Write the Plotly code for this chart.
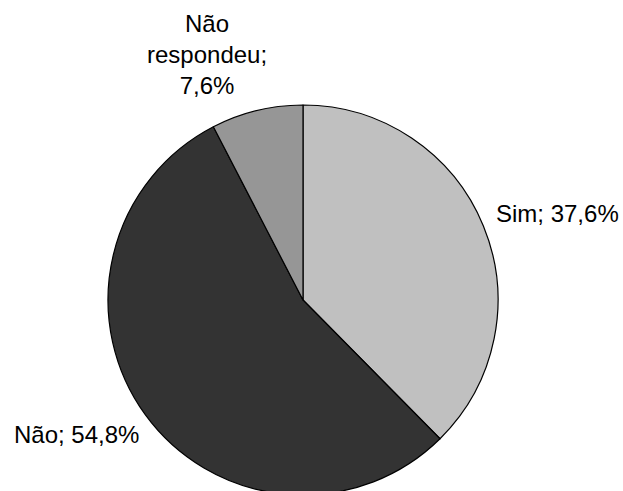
import plotly.graph_objects as go

# Survey answers and their shares (%)
categories = ["Sim", "Não", "Não respondeu"]
shares = [37.6, 54.8, 7.6]
slice_colors = ["#c0c0c0", "#333333", "#969696"]

W, H = 623, 496


def px(x, y):
    """Pixel position (from top-left) to paper coordinates."""
    return x / W, 1 - y / H


def fmt(v):
    return f"{v:.1f}".replace(".", ",") + "%"


fig = go.Figure(
    go.Pie(
        labels=categories,
        values=shares,
        sort=False,
        direction="clockwise",
        rotation=0,
        marker=dict(colors=slice_colors, line=dict(color="#000000", width=1.2)),
        textinfo="none",
        hoverinfo="label+percent",
        showlegend=False,
        domain=dict(x=[108 / W, 498 / W], y=[1 / H, 391 / H]),
    )
)

font = dict(family="Liberation Sans, Arial, sans-serif", size=24, color="#000000")

label_pos = {
    "Sim": (494, 214, "left"),
    "Não": (12, 434, "left"),
    "Não respondeu": (207, 55, "center"),
}

for cat, val in zip(categories, shares):
    x, y, anchor = label_pos[cat]
    if cat == "Não respondeu":
        text = "Não<br>respondeu;<br>" + fmt(val)
    else:
        text = f"{cat}; {fmt(val)}"
    ax, ay = px(x, y)
    fig.add_annotation(
        x=ax, y=ay, xref="paper", yref="paper",
        text=text, showarrow=False, xanchor=anchor, yanchor="middle",
        align="center", font=font,
    )

fig.update_layout(
    width=W, height=H,
    margin=dict(l=0, r=0, t=0, b=0),
    paper_bgcolor="#ffffff",
    plot_bgcolor="#ffffff",
)

fig.write_html(
    "out.html",
    post_script="document.body.style.overflow='hidden';document.body.style.margin='0';",
)
